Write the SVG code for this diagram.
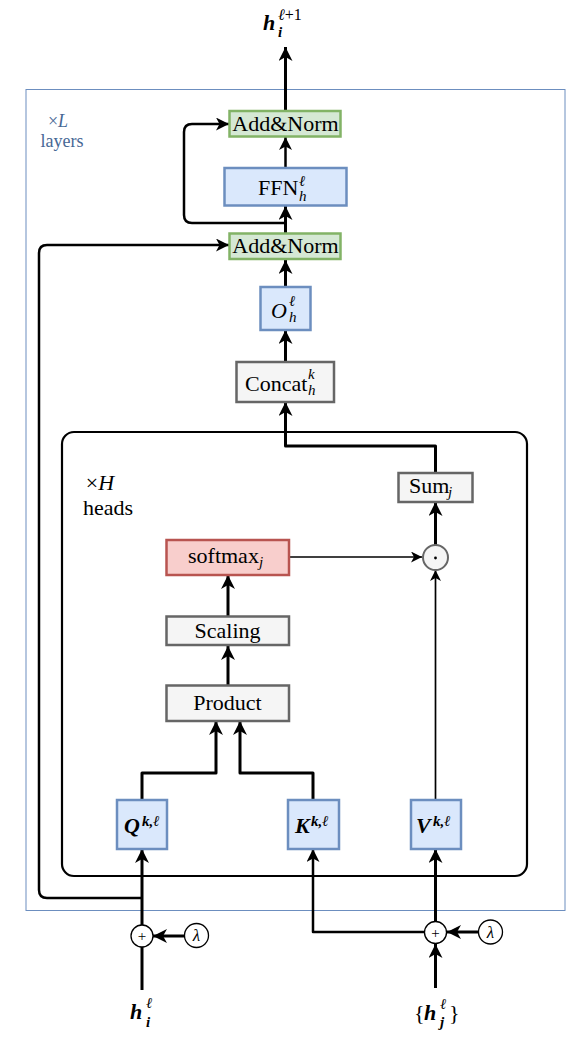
<svg xmlns="http://www.w3.org/2000/svg" width="580" height="1040" viewBox="0 0 580 1040" font-family="'Liberation Serif', 'DejaVu Serif', serif">
<style>
text{font-family:'Liberation Serif','DejaVu Serif',serif}
.n{stroke-width:2.5}
.g{fill:#d5e8d4;stroke:#82b366}
.b{fill:#dae8fc;stroke:#6c8ebf}
.y{fill:#f5f5f5;stroke:#666666}
.r{fill:#f8cecc;stroke:#b85450}
.l{fill:none;stroke:#000;stroke-linejoin:round}
.t3{stroke-width:3;marker-end:url(#ak)}
.t2{stroke-width:2.5;marker-end:url(#am)}
.t1{stroke-width:1.7;marker-end:url(#at)}
.m{font-size:22px}
.s{font-size:15px}
.it{font-style:italic}
.bi{font-style:italic;font-weight:bold}
</style>
<defs>
<marker id="ak" markerUnits="userSpaceOnUse" markerWidth="14" markerHeight="14" viewBox="0 0 14 14" refX="14" refY="7" orient="auto"><path d="M0,0 L14,7 L0,14 L4,7 Z" fill="#000"/></marker>
<marker id="am" markerUnits="userSpaceOnUse" markerWidth="13" markerHeight="13" viewBox="0 0 13 13" refX="13" refY="6.5" orient="auto"><path d="M0,0 L13,6.5 L0,13 L3.5,6.5 Z" fill="#000"/></marker>
<marker id="at" markerUnits="userSpaceOnUse" markerWidth="11" markerHeight="11" viewBox="0 0 11 11" refX="11" refY="5.5" orient="auto"><path d="M0,0 L11,5.5 L0,11 L3,5.5 Z" fill="#000"/></marker>
</defs>
<rect id="layers-box" x="26" y="89.5" width="539" height="821" fill="none" stroke="#6c8ebf" stroke-width="1"/>
<g id="layers-label" fill="#476895">
<text x="58" y="127" text-anchor="middle" font-size="18">×<tspan font-style="italic">L</tspan></text>
<text x="62" y="147" text-anchor="middle" font-size="18">layers</text>
</g>
<rect id="heads-box" x="62" y="432" width="465" height="444" rx="12" fill="none" stroke="#000" stroke-width="2.2"/>
<g id="heads-label">
<text x="100" y="490" text-anchor="middle" font-size="22">×<tspan font-style="italic">H</tspan></text>
<text x="108" y="515" text-anchor="middle" font-size="22">heads</text>
</g>
<g id="connectors">
<path class="l t3" d="M285.5,111 V47"/>
<path class="l t2" d="M285.5,168 V137"/>
<path class="l t3" d="M285.5,233 V206"/>
<path class="l t2" d="M285.5,223 H192 Q184,223 184,215 V132 Q184,124 192,124 H229"/>
<path class="l t3" d="M285.5,287 V260"/>
<path class="l t3" d="M285.5,362 V330"/>
<path class="l t3" d="M435.5,473 V446 H285.5 V402"/>
<path class="l t3" d="M435.5,545 V502"/>
<path class="l t1" d="M435.5,800 V570"/>
<path class="l t1" d="M289,557 H422"/>
<path class="l t3" d="M228,616 V575"/>
<path class="l t3" d="M228,685 V646"/>
<path class="l t3" d="M142,800 V773 H216 V721"/>
<path class="l t3" d="M313,800 V773 H240 V721"/>
<path class="l t3" d="M142,925 V849"/>
<path class="l" stroke-width="3" d="M142,990 V947"/>
<path class="l t3" d="M184,936 H153"/>
<path class="l t2" d="M142,898 H47 Q39,898 39,890 V253 Q39,245 47,245 H229"/>
<path class="l t3" d="M435.5,988 V944"/>
<path class="l t3" d="M478,932 H447"/>
<path class="l t3" d="M435.5,921 V849"/>
<path class="l t2" d="M424,932 H313 V849"/>
</g>
<g id="out-label"><text x="263" y="30" class="m bi">h</text><text x="278" y="20" font-size="16" class="it">ℓ<tspan font-style="normal">+1</tspan></text><text x="278" y="37" class="s bi">i</text></g>
<g id="addnorm2"><rect class="n g" x="229.5" y="111" width="111" height="25.5"/><text x="285.5" y="131" text-anchor="middle" class="m">Add&amp;Norm</text></g>
<g id="ffn"><rect class="n b" x="224.5" y="168" width="122" height="37.5"/><text x="258" y="195" class="m">FFN</text><text x="299" y="186" class="s it">ℓ</text><text x="299" y="201" class="s it">h</text></g>
<g id="addnorm1"><rect class="n g" x="229.5" y="233.5" width="111" height="25.5"/><text x="285.5" y="253" text-anchor="middle" class="m">Add&amp;Norm</text></g>
<g id="o"><rect class="n b" x="260.5" y="287" width="50" height="43"/><text x="271" y="318" class="m it">O</text><text x="289" y="306" class="s it">ℓ</text><text x="289" y="322" class="s it">h</text></g>
<g id="concat"><rect class="n y" x="236.5" y="362" width="97.5" height="40"/><text x="245" y="391" class="m">Concat</text><text x="308" y="379" class="s it">k</text><text x="308" y="395" class="s it">h</text></g>
<g id="sum"><rect class="n y" x="398.5" y="473" width="74" height="29"/><text x="409" y="493" class="m">Sum</text><text x="448" y="497" class="s it">j</text></g>
<g id="odot"><circle cx="435.5" cy="557.5" r="12.5" fill="#f5f5f5" stroke="#666666" stroke-width="2"/><circle cx="435.5" cy="558" r="1.4" fill="#000"/></g>
<g id="softmax"><rect class="n r" x="166.5" y="540" width="122.5" height="35"/><text x="188" y="563" class="m">softmax</text><text x="259" y="567" class="s it">j</text></g>
<g id="scaling"><rect class="n y" x="166.5" y="616.5" width="122.5" height="28.5"/><text x="227.5" y="638" text-anchor="middle" class="m">Scaling</text></g>
<g id="product"><rect class="n y" x="166.5" y="685.5" width="122.5" height="35.5"/><text x="227.5" y="710" text-anchor="middle" class="m">Product</text></g>
<g id="q"><rect class="n b" x="117" y="800" width="50" height="49"/><text x="124" y="833" class="m bi">Q</text><text x="142" y="826" class="s bi">k,ℓ</text></g>
<g id="k"><rect class="n b" x="288" y="800" width="51" height="49"/><text x="295" y="833" class="m bi">K</text><text x="311" y="826" class="s bi">k,ℓ</text></g>
<g id="v"><rect class="n b" x="411" y="800" width="50" height="49"/><text x="416" y="833" class="m bi">V</text><text x="433" y="826" class="s bi">k,ℓ</text></g>
<g id="plus-i"><circle cx="142" cy="936" r="11" fill="#fff" stroke="#000" stroke-width="1.3"/><text x="142" y="941" text-anchor="middle" font-size="15">+</text></g>
<g id="lambda-i"><circle cx="196.5" cy="935.5" r="12" fill="#fff" stroke="#000" stroke-width="1.3"/><text x="196.5" y="941" text-anchor="middle" font-size="17" class="it">λ</text></g>
<g id="plus-j"><circle cx="435.5" cy="932.5" r="11" fill="#fff" stroke="#000" stroke-width="1.3"/><text x="435.5" y="937.5" text-anchor="middle" font-size="15">+</text></g>
<g id="lambda-j"><circle cx="490.5" cy="932" r="12" fill="#fff" stroke="#000" stroke-width="1.3"/><text x="490.5" y="937.5" text-anchor="middle" font-size="17" class="it">λ</text></g>
<g id="hi-label"><text x="130" y="1019" class="m bi">h</text><text x="146" y="1008" class="s it">ℓ</text><text x="146" y="1027" class="s bi">i</text></g>
<g id="hj-label"><text x="414" y="1020" class="m">{</text><text x="424" y="1020" class="m bi">h</text><text x="440" y="1009" class="s it">ℓ</text><text x="440" y="1027" class="s bi">j</text><text x="449" y="1020" class="m">}</text></g>
</svg>
